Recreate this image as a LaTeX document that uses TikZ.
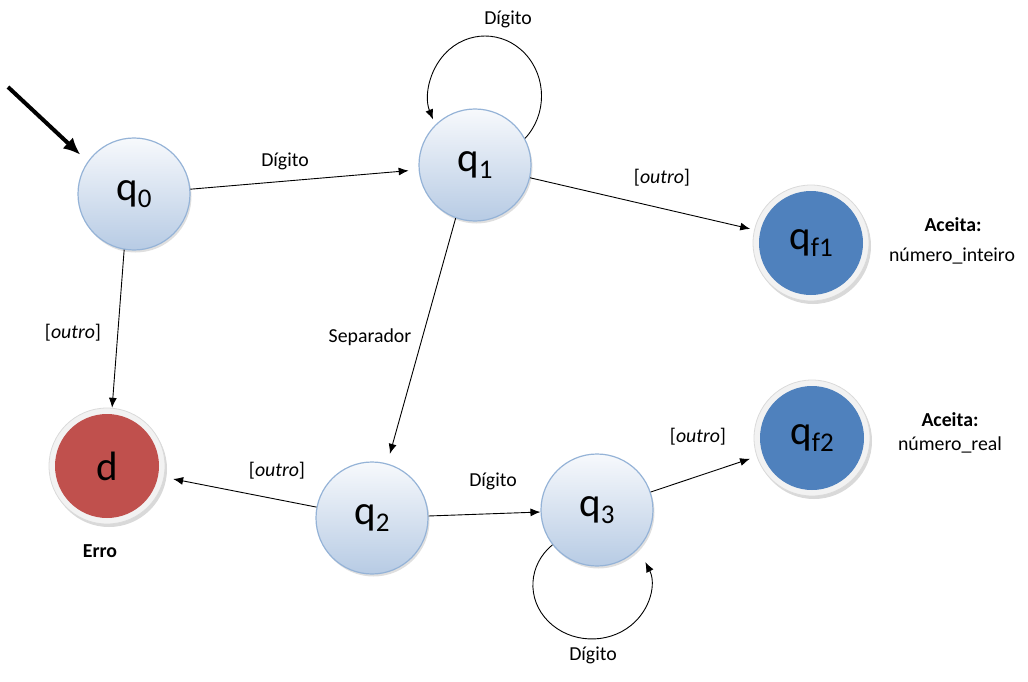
\documentclass[tikz,border=0pt]{standalone}
\usepackage{fontspec}
\setmainfont{Carlito}
\usetikzlibrary{arrows.meta,shadows}

\definecolor{stborder}{HTML}{95B3D7}
\definecolor{sttop}{HTML}{F7F9FC}
\definecolor{stbottom}{HTML}{B7CBE4}
\definecolor{acceptblue}{HTML}{4F81BD}
\definecolor{errred}{HTML}{C0504D}
\definecolor{ringfill}{HTML}{F2F2F2}
\definecolor{ringedge}{HTML}{DADADA}

\newcommand\stname[2]{{\fontsize{41}{41}\selectfont #1}\raisebox{-7pt}{\fontsize{27}{27}\selectfont #2}}

\begin{document}
\begin{tikzpicture}[x=1pt,y=-1pt,
  every node/.style={font=\fontsize{19.8}{22}\selectfont},
  state/.style={circle,minimum size=112pt,inner sep=0pt,draw=stborder,line width=1.2pt,
    top color=sttop,bottom color=stbottom,
    drop shadow={shadow xshift=1.5pt,shadow yshift=-2.5pt,opacity=0.25}},
  ring/.style={circle,minimum size=116pt,inner sep=0pt,draw=ringedge,line width=0.8pt,fill=ringfill,
    drop shadow={shadow xshift=2pt,shadow yshift=-3pt,opacity=0.3}},
  core/.style={circle,minimum size=104pt,inner sep=0pt,fill=#1},
  lbl/.style={inner sep=1pt},
  edge/.style={-{Latex[length=10pt,width=8pt]},line width=0.9pt},
]
\useasboundingbox (0,0) rectangle (1028,682);

% ordinary states
\node[state] (q0) at (134,194) {\stname{q}{0}};
\node[state] (q1) at (475,165) {\stname{q}{1}};
\node[state] (q2) at (372,518) {\stname{q}{2}};
\node[state] (q3) at (597,510) {\stname{q}{3}};

% accepting states and the dead state
\node[ring] (qf1) at (811,243) {};
\node[core=acceptblue] at (qf1) {\stname{q}{f1}};
\node[ring] (qf2) at (812,438) {};
\node[core=acceptblue] at (qf2) {\stname{q}{f2}};
\node[ring] (d) at (107,466) {};
\node[core=errred] at (d) {{\fontsize{41}{41}\selectfont d}};

% side notes
\node (acc1) at (953,225) {\bfseries Aceita:};
\node (acc1t) at (952,256) {número\_inteiro};
\node (acc2) at (950,420) {\bfseries Aceita:};
\node (acc2t) at (950,445) {número\_real};
\node (erro) at (100,551) {\bfseries Erro};

% initial arrow
\coordinate (init) at (8,87);
\draw[-{Latex[length=17pt,width=15pt]},line width=4pt,shorten >=10pt] (init) -- (q0.145);

% transitions
\draw[edge,shorten >=10pt] (q0) -- (q1);
\node[lbl] at (285,161) {Dígito};

\draw[edge,shorten >=4pt] (q1) -- (qf1);
\node[lbl] at (662,178) {[\textit{outro}]};

\draw[edge] (q0.260) -- (d.85);
\node[lbl] at (73,333) {[\textit{outro}]};

\draw[edge,shorten >=10pt] (q1.250) -- (q2);
\node[lbl] at (370,337) {Separador};

\draw[edge,shorten >=9pt] (q2) -- (d);
\node[lbl] at (277,471) {[\textit{outro}]};

\draw[edge] (q2) -- (q3);
\node[lbl] at (493,481) {Dígito};

\draw[edge,shorten >=7pt] (q3) -- (qf2);
\node[lbl] at (698,437) {[\textit{outro}]};

% self loops (elliptic arcs leaving and re-entering the state)
\draw[edge] (q1.28) arc[start angle=45,end angle=-203,x radius=56.5,y radius=60];
\node[lbl] at (508,19) {Dígito};

\draw[edge] (q3.218) arc[start angle=228,end angle=-25,x radius=59,y radius=54];
\node[lbl] at (593,655) {Dígito};
\end{tikzpicture}
\end{document}
